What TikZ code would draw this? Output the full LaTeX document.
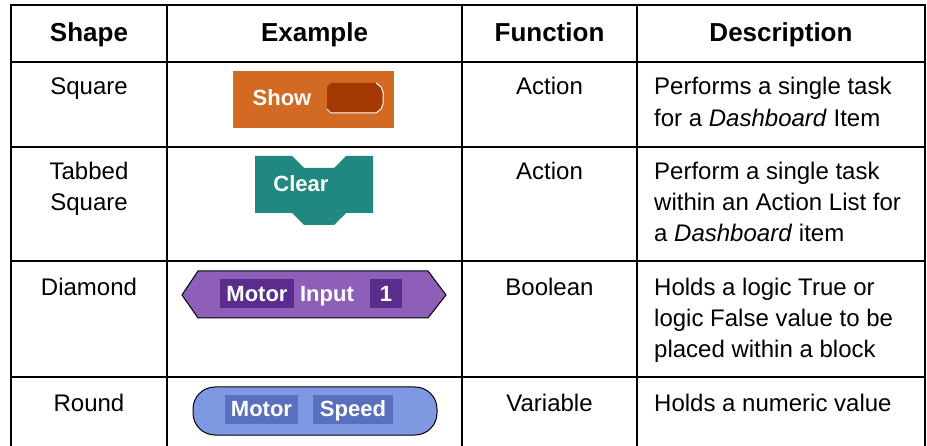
\documentclass[tikz,border=0pt]{standalone}
\usepackage{fontspec}
\setmainfont{Liberation Sans}
\definecolor{showorange}{RGB}{210,106,35}
\definecolor{slotbrown}{RGB}{163,56,0}
\definecolor{clearteal}{RGB}{32,136,128}
\definecolor{boolpurple}{RGB}{142,95,185}
\definecolor{boolbox}{RGB}{90,45,140}
\definecolor{varblue}{RGB}{126,153,226}
\definecolor{varbox}{RGB}{90,112,190}
\newcommand\headfont{\fontsize{26}{31}\selectfont\bfseries}
\newcommand\cellfont{\fontsize{24}{31}\selectfont}
\newcommand\blockfont{\fontsize{22}{26}\selectfont\bfseries}
\begin{document}
\begin{tikzpicture}[x=1pt,y=-1pt,
  grid/.style={line width=1.3pt, line join=miter},
  head/.style={font=\headfont, inner sep=0pt, anchor=base},
  cell/.style={font=\cellfont, inner sep=0pt, anchor=base},
  desc/.style={font=\cellfont, inner sep=0pt, anchor=base west},
  blocktext/.style={font=\blockfont, text=white, inner sep=0pt, anchor=base}]
\useasboundingbox (0,0) rectangle (927,446);
\fill[white] (0,0) rectangle (927,446);

% table rules (the table continues past the lower edge)
\draw[grid] (11,446) -- (11,5) -- (925,5) -- (925,446);
\draw[grid] (167,5) -- (167,446);
\draw[grid] (462,5) -- (462,446);
\draw[grid] (637,5) -- (637,446);
\draw[grid] (11,62) -- (925,62);
\draw[grid] (11,147) -- (925,147);
\draw[grid] (11,261) -- (925,261);
\draw[grid] (11,377) -- (925,377);

% header row
\node[head] (hshape) at (89,42) {Shape};
\node[head] (hexample) at (314.5,42) {Example};
\node[head] (hfunc) at (549.5,42) {Function};
\node[head] (hdesc) at (781,42) {Description};

% shape column
\node[cell] (s1) at (89,95) {Square};
\node[cell] (s2a) at (89,180) {Tabbed};
\node[cell] (s2b) at (89,211) {Square};
\node[cell] (s3) at (89,296) {Diamond};
\node[cell] (s4) at (89,411) {Round};

% function column
\node[cell] (f1) at (549.5,95) {Action};
\node[cell] (f2) at (549.5,180) {Action};
\node[cell] (f3) at (549.5,296) {Boolean};
\node[cell] (f4) at (549.5,411) {Variable};

% description column
\node[desc] (d1a) at (654,95) {Performs a single task};
\node[desc] (d1b) at (654,127) {for a \textit{Dashboard} Item};
\node[desc] (d2a) at (654,180) {Perform a single task};
\node[desc] (d2b) at (654,211) {within an Action List for};
\node[desc] (d2c) at (654,242) {a \textit{Dashboard} item};
\node[desc] (d3a) at (654,296) {Holds a logic True or};
\node[desc] (d3b) at (654,327) {logic False value to be};
\node[desc] (d3c) at (654,358) {placed within a block};
\node[desc] (d4a) at (654,411) {Holds a numeric value};

% square block: Show with an empty slot
\fill[showorange] (233,71) rectangle (394,128);
\fill[slotbrown] (331,83) -- (376,83) -- (381,87) -- (383,92) -- (383,104)
  -- (381,109) -- (376,113) -- (331,113) -- (327,109) -- (327,87) -- cycle;
\draw[white, line width=1pt] (376,83) -- (381,87) -- (383,92) -- (383,104)
  -- (381,109) -- (376,113) -- (331,113) -- (327,109);
\node[blocktext] (show) at (282,106) {Show};

% tabbed block: Clear
\fill[clearteal] (255,156) -- (292,156) -- (304,168) -- (334,168) -- (346,156)
  -- (373,156) -- (373,213) -- (346,213) -- (334,225) -- (304,225) -- (292,213)
  -- (255,213) -- cycle;
\node[blocktext] (clear) at (301,192) {Clear};

% boolean block: Motor Input 1
\filldraw[fill=boolpurple, draw=black, line width=1pt]
  (182,295) -- (198,271) -- (428,271) -- (446,295) -- (428,318) -- (198,318) -- cycle;
\fill[boolbox] (220,279) rectangle (294,308);
\fill[boolbox] (370,279) rectangle (402,308);
\node[blocktext] (bmotor) at (257,302) {Motor};
\node[blocktext] (binput) at (327,302) {Input};
\node[blocktext] (bone) at (386,302) {1};

% variable block: Motor Speed
\filldraw[fill=varblue, draw=black, line width=1pt, rounded corners=22pt]
  (193,387) rectangle (437,435);
\fill[varbox] (225,395) rectangle (298,424);
\fill[varbox] (313,395) rectangle (393,424);
\node[blocktext] (vmotor) at (261.5,417) {Motor};
\node[blocktext] (vspeed) at (353,417) {Speed};
\end{tikzpicture}
\end{document}
